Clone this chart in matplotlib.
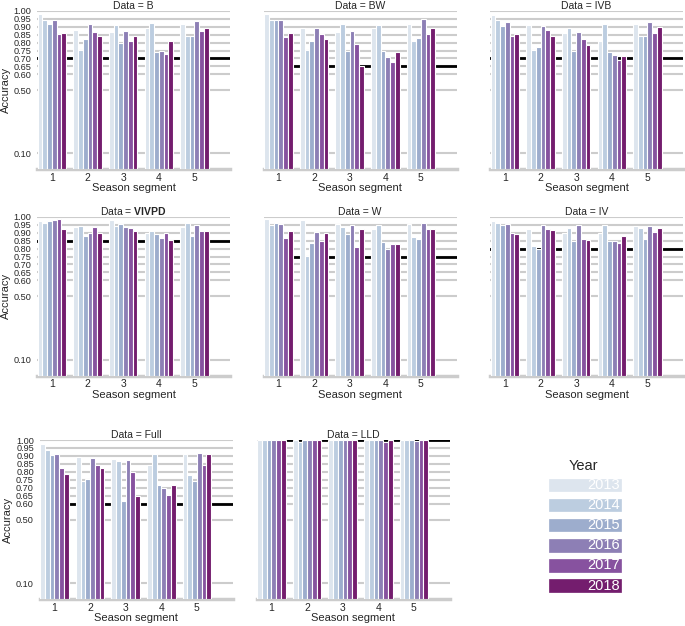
import numpy as np
import matplotlib
matplotlib.use('Agg')
import matplotlib.pyplot as plt
from matplotlib.patches import Rectangle

plt.rcParams['font.family'] = ['Liberation Sans', 'DejaVu Sans']
plt.rcParams['mathtext.fontset'] = 'custom'
plt.rcParams['mathtext.rm'] = 'Liberation Sans'
plt.rcParams['mathtext.bf'] = 'Liberation Sans:bold'

# Dados: [segmento][ano], anos 2013..2018
anos = ['2013', '2014', '2015', '2016', '2017', '2018']
segmentos = ['1', '2', '3', '4', '5']
cores = ['#dde5ee', '#bccde0', '#9dadcd', '#8d7fb5', '#87529f', '#741d6e']
ticks_y = [0.10, 0.50, 0.60, 0.65, 0.70, 0.75, 0.80, 0.85, 0.90, 0.95, 1.00]

acc_B = [[0.98, 0.94, 0.92, 0.94, 0.855, 0.86],
         [0.88, 0.755, 0.825, 0.92, 0.87, 0.84],
         [0.865, 0.91, 0.795, 0.875, 0.81, 0.84],
         [0.895, 0.925, 0.74, 0.75, 0.73, 0.81],
         [0.92, 0.845, 0.84, 0.935, 0.875, 0.895]]
acc_BW = [[0.98, 0.945, 0.94, 0.94, 0.835, 0.86],
          [0.89, 0.755, 0.81, 0.89, 0.855, 0.82],
          [0.865, 0.92, 0.745, 0.875, 0.79, 0.65],
          [0.89, 0.91, 0.745, 0.71, 0.68, 0.74],
          [0.915, 0.81, 0.83, 0.95, 0.855, 0.895]]
acc_IVB = [[0.975, 0.945, 0.905, 0.93, 0.84, 0.855],
           [0.91, 0.755, 0.775, 0.905, 0.88, 0.84],
           [0.86, 0.895, 0.745, 0.87, 0.82, 0.785],
           [0.81, 0.92, 0.74, 0.72, 0.69, 0.715],
           [0.915, 0.84, 0.845, 0.93, 0.86, 0.90]]
acc_VIVPD = [[0.97, 0.96, 0.97, 0.98, 0.985, 0.925],
             [0.935, 0.94, 0.88, 0.90, 0.935, 0.90],
             [0.98, 0.94, 0.955, 0.935, 0.93, 0.91],
             [0.90, 0.91, 0.89, 0.865, 0.90, 0.855],
             [0.935, 0.96, 0.88, 0.95, 0.91, 0.91]]
acc_W = [[0.985, 0.95, 0.96, 0.955, 0.865, 0.91],
         [0.98, 0.755, 0.835, 0.905, 0.85, 0.90],
         [0.955, 0.935, 0.89, 0.95, 0.81, 0.92],
         [0.92, 0.95, 0.84, 0.795, 0.83, 0.83],
         [0.955, 0.87, 0.86, 0.96, 0.92, 0.92]]
acc_IV = [[0.97, 0.96, 0.95, 0.955, 0.90, 0.89],
          [0.92, 0.815, 0.80, 0.95, 0.92, 0.915],
          [0.90, 0.93, 0.845, 0.95, 0.86, 0.855],
          [0.895, 0.95, 0.85, 0.85, 0.835, 0.88],
          [0.94, 0.93, 0.86, 0.94, 0.905, 0.93]]
acc_Full = [[0.975, 0.94, 0.905, 0.91, 0.825, 0.785],
            [0.895, 0.745, 0.755, 0.885, 0.84, 0.825],
            [0.88, 0.87, 0.62, 0.875, 0.80, 0.65],
            [0.84, 0.91, 0.715, 0.70, 0.655, 0.715],
            [0.915, 0.78, 0.745, 0.92, 0.845, 0.91]]
acc_LLD = [[1.0, 1.0, 1.0, 1.0, 1.0, 1.0],
           [1.0, 0.985, 1.0, 1.0, 1.0, 1.0],
           [1.0, 1.0, 1.0, 1.0, 1.0, 1.0],
           [1.0, 1.0, 1.0, 1.0, 0.99, 1.0],
           [1.0, 1.0, 1.0, 0.995, 1.0, 1.0]]

nomes = ['B', 'BW', 'IVB', 'VIVPD', 'W', 'IV', 'Full', 'LLD']
dados = [acc_B, acc_BW, acc_IVB, acc_VIVPD, acc_W, acc_IV, acc_Full, acc_LLD]
linha_base = [0.70, 0.65, 0.70, 0.85, 0.75, 0.80, 0.60, 1.00]

# posicoes dos paineis em pixels (esquerda, topo, base)
W, H = 685, 626
esquerdas = [37, 263.5, 490, 37, 263.5, 490, 39.5, 256.5]
topos = [11, 11, 11, 216.7, 216.7, 216.7, 440, 440]
bases = [169.3, 169.3, 169.3, 375.9, 375.9, 375.9, 599.3, 599.3]
largura = 193


def plotar_painel(fig, k):
    ax = fig.add_axes([esquerdas[k] / W, 1 - bases[k] / H,
                       largura / W, (bases[k] - topos[k]) / H])
    valores = np.array(dados[k])
    x = np.arange(len(segmentos))
    w = 0.8 / len(anos)
    for j, ano in enumerate(anos):
        ax.bar(x + (j - 2.5) * w, valores[:, j], w, color=cores[j],
               edgecolor='white', linewidth=0.8, zorder=3)
    # linha de referencia (por tras das barras)
    ax.axhline(linha_base[k], color='black', lw=2, zorder=2)

    ax.set_xlim(-0.42, 5.0)
    ax.set_ylim(0, 1.0)
    ax.set_yticks(ticks_y)
    ax.set_yticklabels(['%.2f' % t for t in ticks_y])
    ax.set_xticks(x)
    ax.set_xticklabels(segmentos)
    ax.grid(axis='y', color='#cccccc', lw=1.5, zorder=1)
    ax.set_axisbelow(True)
    for s in ['left', 'right', 'top']:
        ax.spines[s].set_visible(False)
    ax.spines['bottom'].set_color('#cccccc')
    ax.spines['bottom'].set_linewidth(2.5)
    ax.tick_params(length=0, colors='#262626')
    ax.tick_params(axis='x', pad=2.5, labelsize=7.5)
    ax.tick_params(axis='y', pad=4, labelsize=6.6)

    if nomes[k] == 'VIVPD':
        titulo = r'Data = $\mathbf{VIVPD}$'
    else:
        titulo = 'Data = ' + nomes[k]
    ax.set_title(titulo, fontsize=7.5, color='#262626', pad=1)
    ax.set_xlabel('Season segment', fontsize=8, color='#262626', labelpad=0.5)
    if k % 3 == 0:
        ax.set_ylabel('Accuracy', fontsize=8, color='#262626', labelpad=2)
    else:
        ax.tick_params(labelleft=False)
    return ax


def plotar_legenda(fig):
    fig.text(583 / W, 1 - 466 / H, 'Year', fontsize=10.5, color='#262626',
             ha='center', va='center')
    for j, ano in enumerate(anos):
        yc = 485 + 20.1 * j
        fig.patches.append(Rectangle((549 / W, 1 - (yc + 6.2) / H), 72 / W, 12.4 / H,
                                     transform=fig.transFigure, color=cores[j],
                                     edgecolor='white', lw=0.5))
        fig.text(619.5 / W, 1 - yc / H, ano, fontsize=10.5, color='white',
                 ha='right', va='center')


def main():
    fig = plt.figure(figsize=(6.85, 6.26), dpi=100)
    for k in range(len(nomes)):
        plotar_painel(fig, k)
    plotar_legenda(fig)
    fig.savefig('out.png', dpi=100)


if __name__ == "__main__":
    main()
